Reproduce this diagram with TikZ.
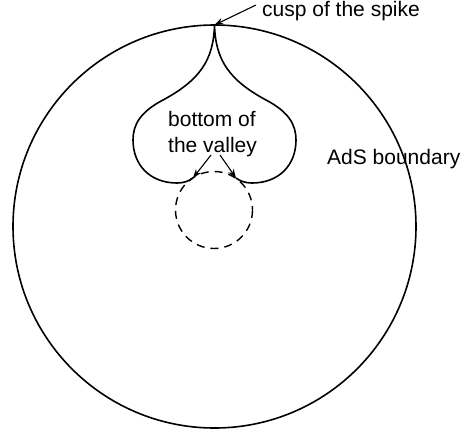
\documentclass[tikz,border=0pt]{standalone}
\usepackage{fontspec}
\setmainfont{Liberation Sans}
\usetikzlibrary{arrows.meta}
\begin{document}
\begin{tikzpicture}[x=1pt,y=-1pt,
  curve/.style={line width=1.6pt},
  arr/.style={line width=1.1pt,-{Stealth[length=9pt,width=6.5pt]}},
  lbl/.style={font=\fontsize{21}{25}\selectfont,inner sep=0pt,anchor=base west}]
\useasboundingbox (0,0) rectangle (463,434);
% AdS boundary
\draw[curve] (214.5,226.5) circle[radius=201.5];
% heart-shaped spike region
\coordinate (cusp) at (214.5,25);
\coordinate (vl) at (193,178);
\coordinate (vr) at (236,178);
\draw[curve] (vl) .. controls (189,181) and (184,183) .. (177,183)
  .. controls (150,183) and (133,165) .. (133,140)
  .. controls (133,125) and (140,112) .. (163,100)
  .. controls (200,80) and (213.5,60) .. (cusp)
  .. controls (215.5,60) and (229,80) .. (266,100)
  .. controls (289,112) and (296,125) .. (296,140)
  .. controls (296,165) and (279,183) .. (252,183)
  .. controls (245,183) and (240,181) .. (vr);
% dashed circle
\draw[line width=1.4pt,dash pattern=on 8pt off 6pt] (214,210) circle[radius=38.5];
% labels
\node[lbl] (cusplbl) at (262,16) {cusp of the spike};
\node[lbl] (bot) at (168,126) {bottom of};
\node[lbl] (val) at (168,152) {the valley};
\node[lbl] (ads) at (327,164) {AdS boundary};
% arrows
\coordinate (cs) at (256,5);
\coordinate (v1) at (211,155);
\coordinate (v2) at (220,155);
\draw[arr] (cs) -- (cusp);
\draw[arr] (v1) -- (vl);
\draw[arr] (v2) -- (vr);
\end{tikzpicture}
\end{document}
